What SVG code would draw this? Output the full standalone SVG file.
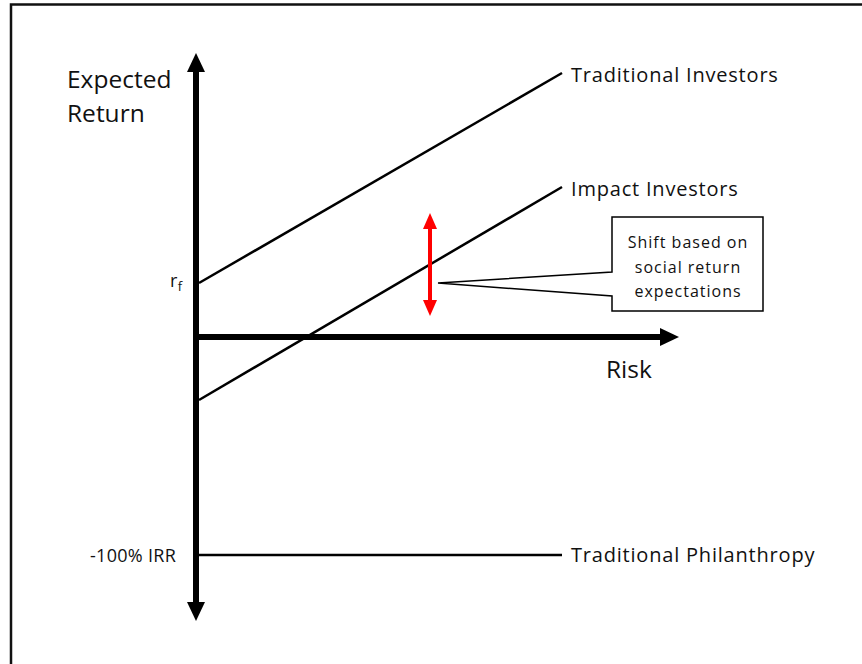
<svg xmlns="http://www.w3.org/2000/svg" width="862" height="664" viewBox="0 0 862 664">
  <style>
    text { font-family: "Open Sans", "Noto Sans", "Liberation Sans", sans-serif; fill: #111; }
    .big { font-size: 24.5px; }
    .lbl { font-size: 20px; letter-spacing: 0.8px; }
    .small { font-size: 18px; letter-spacing: 0.3px; }
    .note { font-size: 16px; letter-spacing: 1px; text-anchor: middle; }
    .line { stroke: #000; stroke-width: 2.5; fill: none; }
  </style>
  <rect width="862" height="664" fill="#fff"/>
  <!-- outer frame -->
  <path d="M11,664 V4.5 H862" fill="none" stroke="#111" stroke-width="2.5"/>

  <g id="axes">
    <!-- expected return axis -->
    <line x1="196" y1="68" x2="196" y2="606" stroke="#000" stroke-width="6"/>
    <polygon points="196,53 187,72 205,72" fill="#000"/>
    <polygon points="196,621 187,602 205,602" fill="#000"/>
    <!-- risk axis -->
    <line x1="196" y1="337" x2="664" y2="337" stroke="#000" stroke-width="6"/>
    <polygon points="679,337 660,328 660,346" fill="#000"/>
    <text class="big" x="67" y="88">Expected</text>
    <text class="big" x="67" y="122">Return</text>
    <text class="big" x="606" y="378">Risk</text>
    <text class="small" x="170" y="287">r<tspan font-size="13" dy="4">f</tspan></text>
    <text class="small" x="90" y="562">-100% IRR</text>
  </g>

  <g id="connectors">
    <line class="line" x1="199" y1="283" x2="562" y2="73"/>
    <line class="line" x1="199" y1="400" x2="562" y2="187"/>
    <line class="line" x1="199" y1="555" x2="562" y2="555"/>
  </g>

  <g id="traditional-investors">
    <text class="lbl" x="571" y="82">Traditional Investors</text>
  </g>
  <g id="impact-investors">
    <text class="lbl" x="571" y="196">Impact Investors</text>
  </g>
  <g id="traditional-philanthropy">
    <text class="lbl" x="571" y="562">Traditional Philanthropy</text>
  </g>

  <g id="shift-arrow">
    <line x1="430" y1="226" x2="430" y2="303" stroke="#f00" stroke-width="4"/>
    <polygon points="430,213 423,229 437,229" fill="#f00"/>
    <polygon points="430,316 423,300 437,300" fill="#f00"/>
  </g>

  <g id="shift-callout">
    <path d="M612,217 H763 V311 H612 V296 L438,283 L612,272 Z" fill="#fff" stroke="#000" stroke-width="1.5"/>
    <text class="note" x="688" y="248">Shift based on</text>
    <text class="note" x="688" y="273">social return</text>
    <text class="note" x="688" y="297">expectations</text>
  </g>
</svg>
